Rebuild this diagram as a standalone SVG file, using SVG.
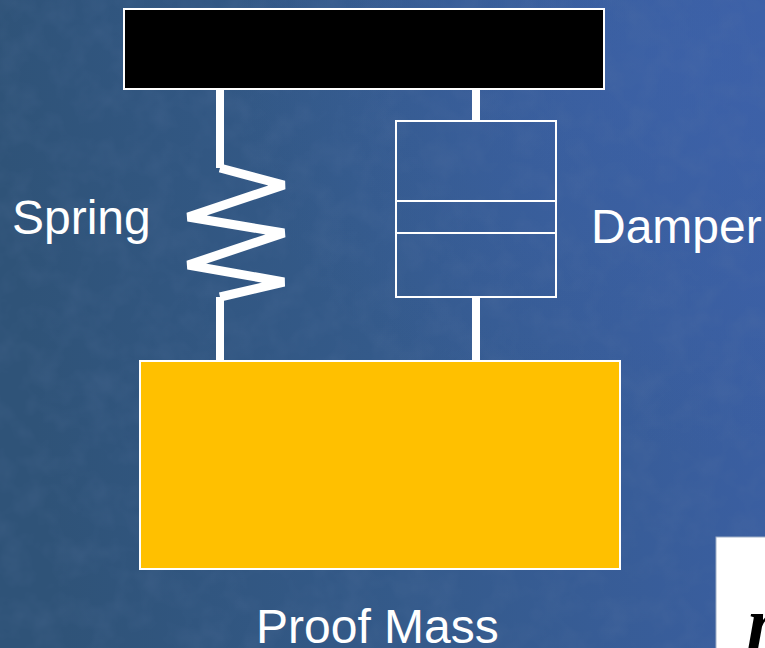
<svg xmlns="http://www.w3.org/2000/svg" width="765" height="648" viewBox="0 0 765 648">
<style>
.lbl{font-family:"Liberation Sans",Arial,sans-serif;font-size:48px;fill:#fff}
.thin{fill:none;stroke:#fff;stroke-width:2}
.conn{fill:none;stroke:#fff;stroke-width:8}
</style>
<defs>
<linearGradient id="bg" x1="0" y1="0.2" x2="1" y2="0.1">
<stop offset="0" stop-color="#2f5378"/>
<stop offset="0.45" stop-color="#345a8a"/>
<stop offset="1" stop-color="#3b5fa4"/>
</linearGradient>
<radialGradient id="glow" cx="0.9" cy="0.1" r="0.6">
<stop offset="0" stop-color="#3f64ae" stop-opacity="0.5"/>
<stop offset="1" stop-color="#3f64ae" stop-opacity="0"/>
</radialGradient>
<filter id="mottle" x="0" y="0" width="100%" height="100%">
<feTurbulence type="fractalNoise" baseFrequency="0.035" numOctaves="3" seed="7"/>
<feColorMatrix type="matrix" values="0 0 0 0 0.12  0 0 0 0 0.2  0 0 0 0 0.38  1.6 0 0 0 -0.62"/>
</filter>
</defs>
<rect width="765" height="648" fill="url(#bg)"/>
<rect width="765" height="648" fill="url(#glow)"/>
<rect width="765" height="648" filter="url(#mottle)" opacity="0.2"/>
<g id="connectors">
<path class="conn" d="M220 89V168"/>
<path class="conn" d="M220 297V361"/>
<path class="conn" d="M476 89V121"/>
<path class="conn" d="M476 297V361"/>
</g>
<g id="support"><rect x="124" y="9" width="480" height="80" fill="#000" stroke="#fff" stroke-width="2"/></g>
<g id="spring"><path d="M220 168L284 185L188 217L284 233L188 265L284 282L220 297" fill="none" stroke="#fff" stroke-width="9" stroke-linejoin="bevel"/></g>
<g id="damper">
<rect class="thin" x="396" y="121" width="160" height="176"/>
<path class="thin" d="M396 201H556M396 233H556"/>
</g>
<g id="mass"><rect x="140" y="361" width="480" height="208" fill="#ffc000" stroke="#fff" stroke-width="2"/></g>
<text class="lbl" x="12" y="234">Spring</text>
<text class="lbl" x="591" y="243">Damper</text>
<text class="lbl" x="256" y="643">Proof Mass</text>
<g id="equation">
<rect x="716" y="537" width="60" height="120" fill="#fff" stroke="#9fb0c8" stroke-width="1"/>
<text x="747" y="648" font-family="'Liberation Serif','Times New Roman',serif" font-style="italic" font-weight="bold" font-size="75" fill="#000">m</text>
</g>
</svg>
